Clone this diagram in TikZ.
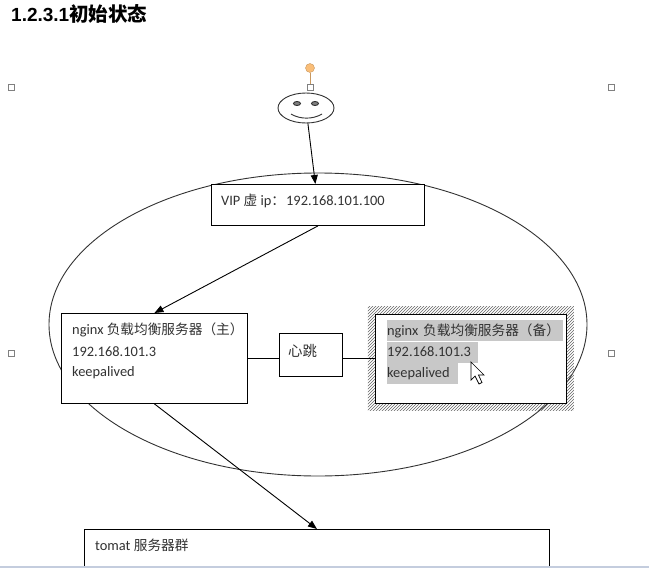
\documentclass[tikz,border=0pt]{standalone}
\usepackage{fontspec}
\setmainfont{Carlito}
\newfontfamily\headfont{Liberation Sans}
\newfontfamily\cjk[Scale=0.95]{Noto Sans CJK SC}
\newfontfamily\headcjk{Noto Sans CJK SC}
\usetikzlibrary{shapes.geometric, arrows.meta, positioning, fit, patterns, backgrounds}
\definecolor{selgray}{RGB}{200,200,200}
\definecolor{inkgray}{RGB}{50,50,50}
\definecolor{handleorange}{RGB}{250,190,120}
\definecolor{barblue}{RGB}{196,205,222}

\begin{document}
\begin{tikzpicture}[
    x=1pt, y=-1pt,
    every node/.style={inner sep=0pt, font=\fontsize{14.4}{16}\selectfont},
    box/.style={rectangle, draw=black, line width=0.9pt, fill=white},
    linetext/.style={anchor=west, minimum height=21pt, text=inkgray},
    seltext/.style={linetext, fill=selgray, align=left},
    hatch/.style={rectangle, pattern=north east lines, pattern color=inkgray!75},
    round/.style={ellipse, draw=inkgray, line width=0.9pt},
    handle/.style={rectangle, draw=gray, fill=white, line width=0.8pt, minimum size=6pt},
    link/.style={draw=black, line width=0.9pt},
    arrow/.style={link, -{Triangle[length=9pt,width=7pt]}}
]
\useasboundingbox (0,0) rectangle (649,568);

% Heading
\node[anchor=west, font=\fontsize{19}{20}\selectfont\bfseries] (Title) at (11,14) {\headfont 1.2.3.1{\headcjk\fontsize{19.5}{20}\selectfont 初始状态}};

% Selection handles
\node[handle] (HandleNW) at (11,87) {};
\node[handle] (HandleNE) at (611,87) {};
\node[handle] (HandleW) at (11,353) {};
\node[handle] (HandleE) at (611,353) {};
\node[handle] (HandleTop) at (310,87) {};
\node[circle, draw=handleorange!80!black, fill=handleorange, minimum size=9pt] (Rotate) at (310,68) {};
\draw[draw=handleorange!80!black, line width=0.9pt] (Rotate) -- (HandleTop);

% User
\node[round, fill=white, minimum width=56pt, minimum height=30pt] (Smiley) at (306,108) {};
\node[round, fill=gray, minimum width=7pt, minimum height=4pt] (EyeLeft) at (297,103.5) {};
\node[round, fill=gray, minimum width=7pt, minimum height=4pt] (EyeRight) at (315,103.5) {};
\draw[draw=inkgray, line width=0.9pt] (291,114) .. controls (300,119.5) and (313,119.5) .. (322,114);

% Boxes
\node[box, anchor=north west, minimum width=213pt, minimum height=41pt] (VIP) at (211,184) {};
\node[linetext, right=10pt of VIP.west, yshift=4pt] (VIPText) {VIP {\cjk 虚} ip{\cjk ：}\hspace{1pt}192.168.101.100};

\node[box, anchor=north west, minimum width=186pt, minimum height=90pt] (Master) at (61,313) {};
\node[linetext, below right=6.5pt and 11pt of Master.north west, anchor=north west] (Master1) {nginx {\cjk 负载均衡服务器（主）}};
\node[linetext, below=0pt of Master1.south west, anchor=north west] (Master2) {192.168.101.3};
\node[linetext, below=0pt of Master2.south west, anchor=north west] (Master3) {keepalived};

\node[box, right=31pt of Master, yshift=3.5pt, minimum width=63pt, minimum height=43pt] (Heart) {};
\node[linetext, right=9pt of Heart.west, yshift=4pt, font=\fontsize{15.2}{16}\selectfont\cjk] (HeartText) {心跳};

\node[box, right=127pt of Master, minimum width=191pt, minimum height=89pt] (Backup) {};
\node[seltext, text width=176pt, below right=6.5pt and 12pt of Backup.north west, anchor=north west] (Backup1) {nginx {\cjk 负载均衡服务器（备）}};
\node[seltext, text width=91pt, below=0pt of Backup1.south west, anchor=north west] (Backup2) {192.168.101.3};
\node[seltext, text width=71pt, below=0pt of Backup2.south west, anchor=north west] (Backup3) {keepalived};

\node[box, anchor=north west, minimum width=465pt, minimum height=38pt] (Tomcat) at (84,529) {};
\node[linetext, below right=6pt and 11pt of Tomcat.north west, anchor=north west] (TomcatText) {tomat {\cjk 服务器群}};

\begin{pgfonlayer}{background}
\node[round, minimum width=538pt, minimum height=303pt] (Cluster) at (318,324.5) {};
\node[hatch, fit=(Backup), inner sep=7pt] (BackupHatch) {};
\end{pgfonlayer}

% Mouse pointer
\filldraw[draw=black, fill=white, line width=0.7pt] (471,362) -- (471,380) -- (475,376) -- (479,384) -- (482,382.5) -- (478.5,375) -- (484,375) -- cycle;

% Connections
\draw[arrow] (Smiley) -- (VIP);
\draw[arrow] (VIP.south) -- (Master.north);
\draw[arrow] (Master.south) -- (Tomcat.north);
\draw[link] (Master.east) -- (Master.east -| Heart.west);
\draw[link] (Backup.west -| Heart.east) -- (Backup.west);

% Window edge
\fill[barblue] (0,565.5) rectangle (649,568);
\end{tikzpicture}
\end{document}
